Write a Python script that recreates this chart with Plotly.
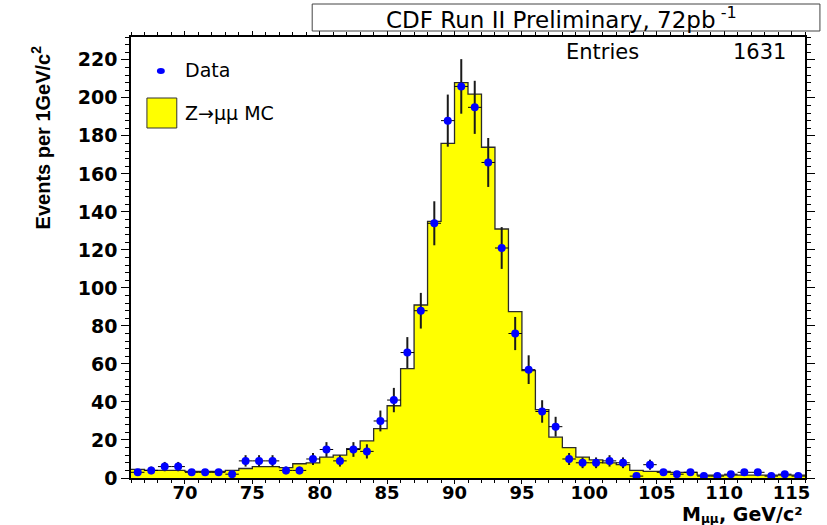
import numpy as np
import plotly.graph_objects as go

# 1 GeV bins from 66 to 116 GeV/c^2 (lower edges)
bin_low = list(range(66, 116))
bin_center = [b + 0.5 for b in bin_low]

# Data counts per bin (sum = 1631)
data_counts = [3, 4, 6, 6, 3, 3, 3, 2, 9, 9,
               9, 4, 4, 10, 15, 9, 15, 14, 30, 41,
               66, 88, 134, 188, 206, 195, 166, 121, 76, 57,
               35, 27, 10, 8, 8, 9, 8, 1, 7, 3,
               2, 3, 1, 1, 2, 3, 3, 1, 2, 1]

# Z -> mumu MC expectation per bin
mc_counts = [4.5, 4, 4, 4, 3.5, 3.5, 3.5, 4, 5, 6,
             6, 5.5, 7.5, 8, 11, 12, 15.5, 19.5, 26, 38,
             57.5, 91, 135, 176, 208, 202, 174, 131, 87.5, 56.5,
             36, 21.5, 16, 11, 9.5, 8, 7, 4, 3.5, 3.5,
             3, 3, 1.5, 1.5, 1.5, 1.5, 1.5, 1.5, 1.5, 1.5]

x_ticks = [70, 75, 80, 85, 90, 95, 100, 105, 110, 115]
y_ticks = [0, 20, 40, 60, 80, 100, 120, 140, 160, 180, 200, 220]

data_err = [float(np.sqrt(v)) for v in data_counts]
half_bin = [0.5] * len(bin_center)

fig = go.Figure()

# MC histogram as filled step outline
fig.add_trace(go.Scatter(
    x=bin_low + [bin_low[-1] + 1],
    y=mc_counts + [mc_counts[-1]],
    mode="lines",
    line=dict(shape="hv", color="#2b2b2b", width=1.3),
    fill="tozeroy",
    fillcolor="#ffff00",
    hoverinfo="skip",
))

# Data points with errors
fig.add_trace(go.Scatter(
    x=bin_center,
    y=data_counts,
    mode="markers",
    marker=dict(color="#0000ff", size=8, symbol="circle"),
    error_x=dict(type="data", array=half_bin, color="#000000", thickness=1, width=0),
    error_y=dict(type="data", array=data_err, color="#1a1a1a", thickness=2, width=0),
))

W, H = 827, 525
L, R, T, B = 131, 808, 37, 478


def px(xp):
    return (xp - L) / (R - L)


def py(yp):
    return (B - yp) / (B - T)


xtickfont = dict(family="DejaVu Sans", size=18, color="black", weight="bold")
ytickfont = dict(family="DejaVu Sans", size=19, color="black", weight="bold")
xtitlefont = dict(family="DejaVu Sans", size=19, color="black", weight="bold")

fig.update_layout(
    width=W, height=H,
    margin=dict(l=L, r=W - R, t=T, b=H - B),
    plot_bgcolor="white", paper_bgcolor="white",
    showlegend=False,
    xaxis=dict(
        range=[66, 116], tickvals=x_ticks, ticks="outside", ticklen=4, tickwidth=1,
        tickcolor="black", showline=True, linecolor="black", linewidth=1.5,
        mirror="allticks", showgrid=False, zeroline=False, tickfont=xtickfont,
        ticklabelstandoff=-6,
        minor=dict(dtick=1, tick0=66, ticklen=3, ticks="outside", tickcolor="black", showgrid=False),
    ),
    yaxis=dict(
        range=[0, 232], tickvals=y_ticks, ticks="outside", ticklen=8, tickwidth=1,
        tickcolor="black", showline=True, linecolor="black", linewidth=1.5,
        mirror="allticks", showgrid=False, zeroline=False, tickfont=ytickfont,
        minor=dict(dtick=4, tick0=0, ticklen=4, ticks="outside", tickcolor="black", showgrid=False),
    ),
    shapes=[
        # title box
        dict(type="rect", xref="paper", yref="paper",
             x0=px(313), x1=px(823), y0=py(31), y1=py(4),
             line=dict(color="#444444", width=1), fillcolor="white", layer="above"),
        # legend: data marker
        dict(type="circle", xref="paper", yref="paper",
             x0=px(157), x1=px(165), y0=py(74), y1=py(68),
             line=dict(width=0), fillcolor="#0000ff"),
        # legend: MC box
        dict(type="rect", xref="paper", yref="paper",
             x0=px(147), x1=px(177), y0=py(128), y1=py(98),
             line=dict(color="#333333", width=1), fillcolor="#ffff00"),
    ],
    annotations=[
        dict(text="CDF Run II Preliminary, 72pb<sup> -1</sup>", xref="paper", yref="paper",
             x=px(563), y=py(18), xanchor="center", yanchor="middle", showarrow=False,
             font=dict(family="DejaVu Sans", size=23, color="black")),
        dict(text="Entries", xref="paper", yref="paper",
             x=px(566), y=py(52), xanchor="left", yanchor="middle", showarrow=False,
             font=dict(family="DejaVu Sans", size=21, color="black")),
        dict(text="1631", xref="paper", yref="paper",
             x=px(791), y=py(52), xanchor="right", yanchor="middle", showarrow=False,
             font=dict(family="DejaVu Sans", size=21, color="black")),
        dict(text="Data", xref="paper", yref="paper",
             x=px(183), y=py(70), xanchor="left", yanchor="middle", showarrow=False,
             font=dict(family="DejaVu Sans", size=19, color="black")),
        dict(text="Z\u2192\u03bc\u03bc MC", xref="paper", yref="paper",
             x=px(183), y=py(113), xanchor="left", yanchor="middle", showarrow=False,
             font=dict(family="DejaVu Sans", size=19, color="black")),
        dict(text="Events per 1GeV/c<sup>2</sup>", xref="paper", yref="paper",
             x=px(40), y=py(43), xanchor="center", yanchor="top", textangle=-90, showarrow=False,
             font=dict(family="Liberation Sans Narrow, Liberation Sans, Arial", size=20, color="black", weight="bold")),
        # x-axis title: M_{mumu}, GeV/c^2 (three pieces so the subscript stays inside the page)
        dict(text=", GeV/c\u00b2", xref="paper", yref="paper",
             x=px(808), y=py(514), xanchor="right", yanchor="middle", showarrow=False,
             font=xtitlefont),
        dict(text="\u03bc\u03bc", xref="paper", yref="paper",
             x=px(724), y=py(519), xanchor="right", yanchor="middle", showarrow=False,
             font=dict(family="DejaVu Sans", size=12, color="black", weight="bold")),
        dict(text="M", xref="paper", yref="paper",
             x=px(706), y=py(514), xanchor="right", yanchor="middle", showarrow=False,
             font=xtitlefont),
    ],
)

fig.write_html("out.html")
